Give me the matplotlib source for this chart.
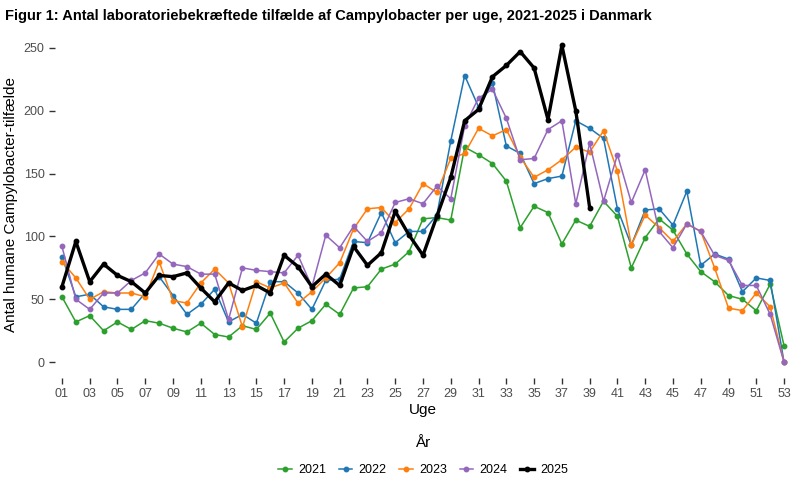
import matplotlib.pyplot as plt
import numpy as np

plt.rcParams['font.family'] = ['Liberation Sans', 'DejaVu Sans']

# week numbers
weeks = list(range(1, 54))
week_labels = [f'{w:02d}' for w in weeks]

# cases per week
cases_2021 = [52, 32, 37, 25, 32, 26, 33, 31, 27, 24, 31, 22, 20, 29, 26, 39, 16, 27, 33, 46,
              38, 59, 60, 74, 78, 88, 114, 115, 113, 171, 165, 158, 144, 107, 124, 119, 94, 113, 108, 128,
              116, 75, 99, 114, 105, 86, 72, 64, 53, 50, 41, 62, 13]
cases_2022 = [84, 52, 54, 44, 42, 42, 55, 68, 53, 38, 46, 58, 32, 38, 31, 64, 64, 55, 42, 65,
              66, 96, 95, 119, 95, 104, 104, 117, 176, 228, 203, 222, 172, 166, 142, 146, 148, 192, 186, 178,
              122, 93, 121, 122, 109, 136, 77, 86, 82, 56, 67, 65, 0]
cases_2023 = [80, 67, 50, 56, 55, 55, 52, 80, 49, 47, 63, 74, 63, 28, 64, 59, 63, 47, 56, 67,
              79, 106, 122, 123, 111, 122, 142, 135, 162, 166, 186, 180, 185, 163, 147, 153, 161, 171, 167, 184,
              152, 93, 117, 107, 96, 110, 104, 75, 43, 41, 55, 44, 0]
cases_2024 = [92, 50, 42, 55, 55, 65, 71, 86, 78, 76, 70, 70, 34, 75, 73, 72, 71, 85, 60, 101,
              91, 108, 96, 103, 127, 130, 126, 140, 130, 188, 210, 217, 194, 161, 162, 185, 192, 126, 174, 128,
              165, 127, 153, 104, 91, 110, 104, 85, 81, 61, 61, 38, 0]
cases_2025 = [60, 96, 64, 78, 69, 64, 55, 69, 68, 71, 59, 48, 63, 57, 61, 55, 85, 76, 60, 70,
              61, 92, 77, 87, 120, 101, 85, 116, 147, 192, 201, 227, 236, 247, 234, 193, 252, 200, 123]

fig = plt.figure(figsize=(8, 4.92), dpi=100)
ax = fig.add_axes([55 / 800, 114 / 492, 736 / 800, 348 / 492])

series = [
    ('2021', cases_2021, '#2ca02c'),
    ('2022', cases_2022, '#1f77b4'),
    ('2023', cases_2023, '#ff7f0e'),
    ('2024', cases_2024, '#9467bd'),
]
for name, vals, col in series:
    ax.plot(weeks[:len(vals)], vals, color=col, lw=1.1, marker='o', ms=3.2, label=name)

ax.plot(weeks[:len(cases_2025)], cases_2025, color='black', lw=2.4, marker='o', ms=3.2,
        label='2025', zorder=5)

ax.set_xlim(0.5, 53.5)
ax.set_ylim(-12.6, 264.2)
ax.set_xticks(weeks[::2])
ax.set_xticklabels(week_labels[::2])
ax.set_yticks([0, 50, 100, 150, 200, 250])
for s in ax.spines.values():
    s.set_visible(False)
ax.tick_params(axis='both', colors='#333333', labelcolor='#4d4d4d', labelsize=9, length=4, width=1)

ax.set_xlabel('Uge', fontsize=11, labelpad=2)
ax.set_ylabel('Antal humane Campylobacter-tilfælde', fontsize=11, labelpad=4)

fig.text(0.006, 0.968, 'Figur 1: Antal laboratoriebekræftede tilfælde af Campylobacter per uge, 2021-2025 i Danmark',
         fontsize=10.5, fontweight='bold', va='center', ha='left')

# legend title placed on its own, entries below it
fig.text(423 / 800, 1 - 443 / 492, 'År', fontsize=11, ha='center', va='center')
leg = fig.legend(loc='center', bbox_to_anchor=(423 / 800, 1 - 470 / 492), ncol=5, frameon=False,
                 fontsize=9, handlelength=1.1, columnspacing=1.0, handletextpad=0.5)

plt.savefig('out.png')
